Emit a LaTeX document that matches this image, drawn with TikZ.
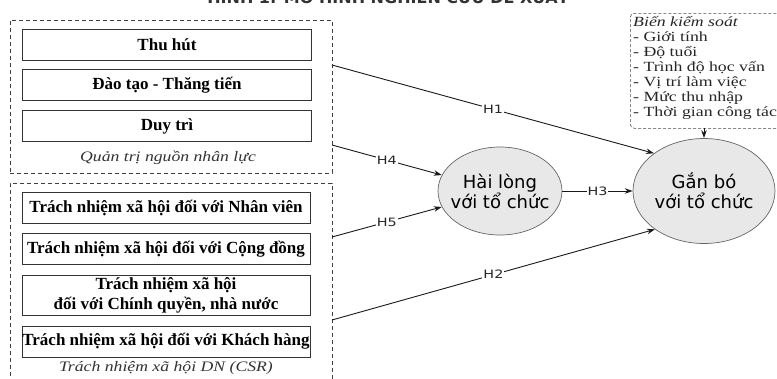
\documentclass[tikz,border=0pt]{standalone}
\usepackage{fontspec}
\setmainfont{Liberation Serif}
\newfontfamily\sansf{DejaVu Sans}
\newfontfamily\ctrlf[FakeStretch=1.22]{Liberation Serif}
\newfontfamily\boxf[FakeStretch=1.27]{Liberation Serif}
\newfontfamily\labf[FakeStretch=1.25]{DejaVu Sans}
\usetikzlibrary{shapes.geometric,arrows.meta}
\begin{document}
\begin{tikzpicture}[x=1pt,y=-1pt,
  item/.style={draw=black!80, line width=0.8pt, fill=white, minimum width=289pt, minimum height=31pt, inner sep=0pt, font=\fontsize{17}{20}\selectfont\bfseries, align=center},
  group/.style={draw=black!75, dash pattern=on 4pt off 3pt, line width=0.7pt, inner sep=0pt},
  ell/.style={ellipse, draw=black!60, fill=black!9, line width=0.7pt, inner sep=0pt},
  elltext/.style={font=\sansf\fontsize{18}{20}\selectfont, align=center},
  arr/.style={-{Stealth[length=8pt,width=5.5pt]}, line width=0.9pt, draw=black!90},
  hlab/.style={fill=white, inner sep=1pt, font=\labf\fontsize{11.5}{12}\selectfont, text=black!85},
  grpcap/.style={font=\ctrlf\itshape\fontsize{14.5}{16}\selectfont, text=black!80}
]
\useasboundingbox (0,0) rectangle (777,378);

% title (cut off at the top, as in the reference)
\node[font=\sansf\bfseries\fontsize{16}{18}\selectfont, anchor=base, text=black!80] (title) at (388,3.5) {HÌNH 1: MÔ HÌNH NGHIÊN CỨU ĐỀ XUẤT};

% groups
\node[group, minimum width=322pt, minimum height=153pt] (qt) at (171,96.5) {};
\node[group, minimum width=322pt, minimum height=210pt] (csr) at (171,288) {};

% HR items
\node[item] (thu) at (167,45) {Thu hút};
\node[item] (dt) at (167,85) {Đào tạo - Thăng tiến};
\node[item] (dtr) at (167,126) {Duy trì};
\node[grpcap] (qtl) at (168,158) {Quản trị nguồn nhân lực};

% CSR items
\node[item, minimum width=288pt] (nv) at (166,207.5) {Trách nhiệm xã hội đối với Nhân viên};
\node[item, minimum width=288pt] (cd) at (166,249) {Trách nhiệm xã hội đối với Cộng đồng};
\node[item, minimum width=288pt, minimum height=40pt] (cq) at (166,295) {Trách nhiệm xã hội\\đối với Chính quyền, nhà nước};
\node[item, minimum width=288pt] (kh) at (166,341.5) {Trách nhiệm xã hội đối với Khách hàng};
\node[grpcap] (csrl) at (166,368) {Trách nhiệm xã hội DN (CSR)};

% ellipses
\node[ell, minimum width=124pt, minimum height=88pt, label={[elltext]center:Hài lòng\\với tổ chức}] (hlg) at (500,191) {};
\node[ell, minimum width=142pt, minimum height=105pt, label={[elltext]center:Gắn bó\\với tổ chức}] (gb) at (704,191) {};

% control variables
\node[draw=black!70, dash pattern=on 3pt off 2pt, line width=0.6pt, rounded corners=4pt, minimum width=160pt, minimum height=115pt, anchor=north west] (ctrl) at (630,13) {};
\node[anchor=north west, align=left, inner sep=0pt, font=\boxf\fontsize{14}{15}\selectfont, text=black!85] (ctrlt) at (633,16.5) {\textit{Biến kiểm soát}\\- Giới tính\\- Độ tuổi\\- Trình độ học vấn\\- Vị trí làm việc\\- Mức thu nhập\\- Thời gian công tác};

% connector ends
\coordinate (s1) at (332,65);
\coordinate (s4) at (332,145);
\coordinate (s5) at (332,237);
\coordinate (s2) at (332,320);
\coordinate (ct) at (704,128);

\draw[arr] (s1) -- node[hlab]{H1} (gb.143);
\draw[arr] (s4) -- node[hlab]{H4} (hlg);
\draw[arr] (s5) -- node[hlab]{H5} (hlg);
\draw[arr] (s2) -- node[hlab]{H2} (gb.218);
\draw[arr] (hlg) -- node[hlab]{H3} (gb);
\draw[arr] (ct) -- (gb);
\end{tikzpicture}
\end{document}
